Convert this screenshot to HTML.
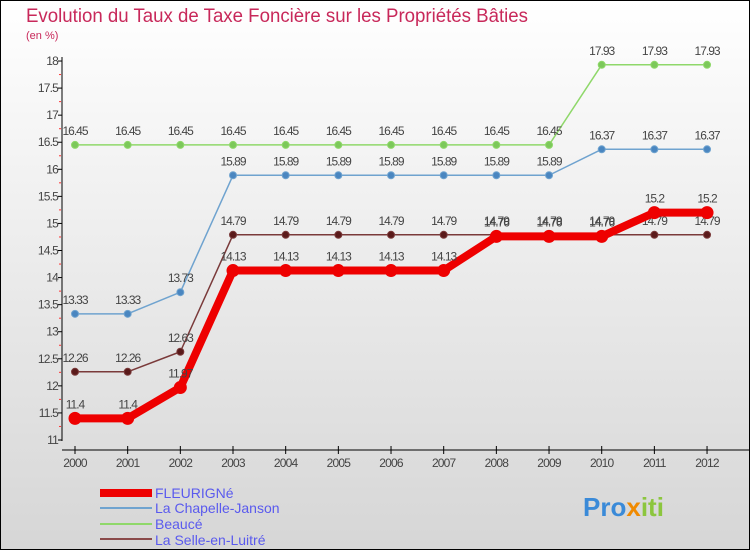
<!DOCTYPE html>
<html><head><meta charset="utf-8"><style>
body{margin:0}
svg{display:block;font-family:"Liberation Sans",sans-serif}
</style></head><body>
<svg id="c" width="750" height="550">
<defs><linearGradient id="bg" x1="0" y1="0" x2="0" y2="1"><stop offset="0" stop-color="#ffffff"/><stop offset="1" stop-color="#d6d6d6"/></linearGradient></defs>
<rect x="0.5" y="0.5" width="749" height="549" fill="url(#bg)" stroke="#000"/>
<text x="26" y="22" font-size="19" fill="#c8285a" textLength="502" lengthAdjust="spacingAndGlyphs">Evolution du Taux de Taxe Foncière sur les Propriétés Bâties</text>
<text x="26" y="39" font-size="11" fill="#c8285a">(en %)</text>
<g id="axes"></g><g id="series"></g>
<g>
<rect x="100" y="489" width="52" height="8" fill="#e00"/>
<line x1="100" y1="508" x2="152" y2="508" stroke="#6fa3cf" stroke-width="2"/>
<line x1="100" y1="524" x2="152" y2="524" stroke="#8fd86a" stroke-width="2"/>
<line x1="100" y1="539" x2="152" y2="539" stroke="#8a4a4a" stroke-width="2"/>
<text x="155" y="498" font-size="14" fill="#5a5aee">FLEURIGNé</text>
<text x="155" y="513" font-size="14" fill="#5a5aee">La Chapelle-Janson</text>
<text x="155" y="529" font-size="14" fill="#5a5aee">Beaucé</text>
<text x="155" y="545" font-size="14" fill="#5a5aee">La Selle-en-Luitré</text>
</g>
<text x="583" y="516" font-size="26" font-weight="bold" fill="#3a8ad8">Pro<tspan fill="#f08a00">x</tspan><tspan fill="#8cc63e">iti</tspan></text>
</svg>
<script>
const years=[2000,2001,2002,2003,2004,2005,2006,2007,2008,2009,2010,2011,2012];
const fleurigne=[11.4,11.4,11.97,14.13,14.13,14.13,14.13,14.13,14.76,14.76,14.76,15.2,15.2];
const chapelle=[13.33,13.33,13.73,15.89,15.89,15.89,15.89,15.89,15.89,15.89,16.37,16.37,16.37];
const beauce=[16.45,16.45,16.45,16.45,16.45,16.45,16.45,16.45,16.45,16.45,17.93,17.93,17.93];
const selle=[12.26,12.26,12.63,14.79,14.79,14.79,14.79,14.79,14.79,14.79,14.79,14.79,14.79];
const yTicks=[11,11.5,12,12.5,13,13.5,14,14.5,15,15.5,16,16.5,17,17.5,18];
const NS="http://www.w3.org/2000/svg";
const X=i=>75+i*52.67, Y=v=>440-(v-11)*54.14;
function mk(t,a,p){const e=document.createElementNS(NS,t);for(const k in a)e.setAttribute(k,a[k]);p.appendChild(e);return e;}
const ax=document.getElementById('axes');
let l=mk('line',{x1:62,y1:57,x2:62,y2:441,stroke:'#000'},ax);


l=mk('line',{x1:62,y1:450,x2:750,y2:450,stroke:'#000'},ax);


yTicks.forEach((v,i)=>{const y=Y(v);
mk('line',{x1:58,y1:y,x2:62,y2:y,stroke:'#000'},ax);
if(i<yTicks.length-1)mk('line',{x1:59,y1:Y(v+0.25),x2:61,y2:Y(v+0.25),stroke:'#f33'},ax);
const t=mk('text',{x:58,y:y+4,'font-size':12,fill:'#444','text-anchor':'end','letter-spacing':'-0.8'},ax);t.textContent=v;

});
years.forEach((yr,i)=>{const x=X(i);
mk('line',{x1:x,y1:446,x2:x,y2:454,stroke:'#000'},ax);
const t=mk('text',{x:x,y:467,'font-size':12,fill:'#444','text-anchor':'middle','letter-spacing':'-0.8'},ax);t.textContent=yr;

});
const sg=document.getElementById('series');
function draw(vals,col,w,r,dot,name){
const g=mk('g',{},sg);


mk('polyline',{points:vals.map((v,i)=>X(i)+','+Y(v)).join(' '),fill:'none',stroke:col,'stroke-width':w,'stroke-linejoin':'round'},g);
vals.forEach((v,i)=>{const c=mk('circle',{cx:X(i),cy:Y(v),r:r,fill:dot,stroke:col,'stroke-width':1},g);


const t=mk('text',{x:X(i),y:Y(v)-10,'font-size':12,fill:'#444','text-anchor':'middle','letter-spacing':'-1'},g);t.textContent=v;

});}
draw(beauce,'#8fd86a',1.5,3.5,'#7cc85a','series-beauce');
draw(chapelle,'#6fa3cf',1.5,3.5,'#4a86c0','series-chapelle-janson');
draw(selle,'#7a3a3a',1.5,3.5,'#5a1a1a','series-selle-en-luitre');
draw(fleurigne,'#e00',8,6,'#e00','series-fleurigne');
</script>
</body></html>
